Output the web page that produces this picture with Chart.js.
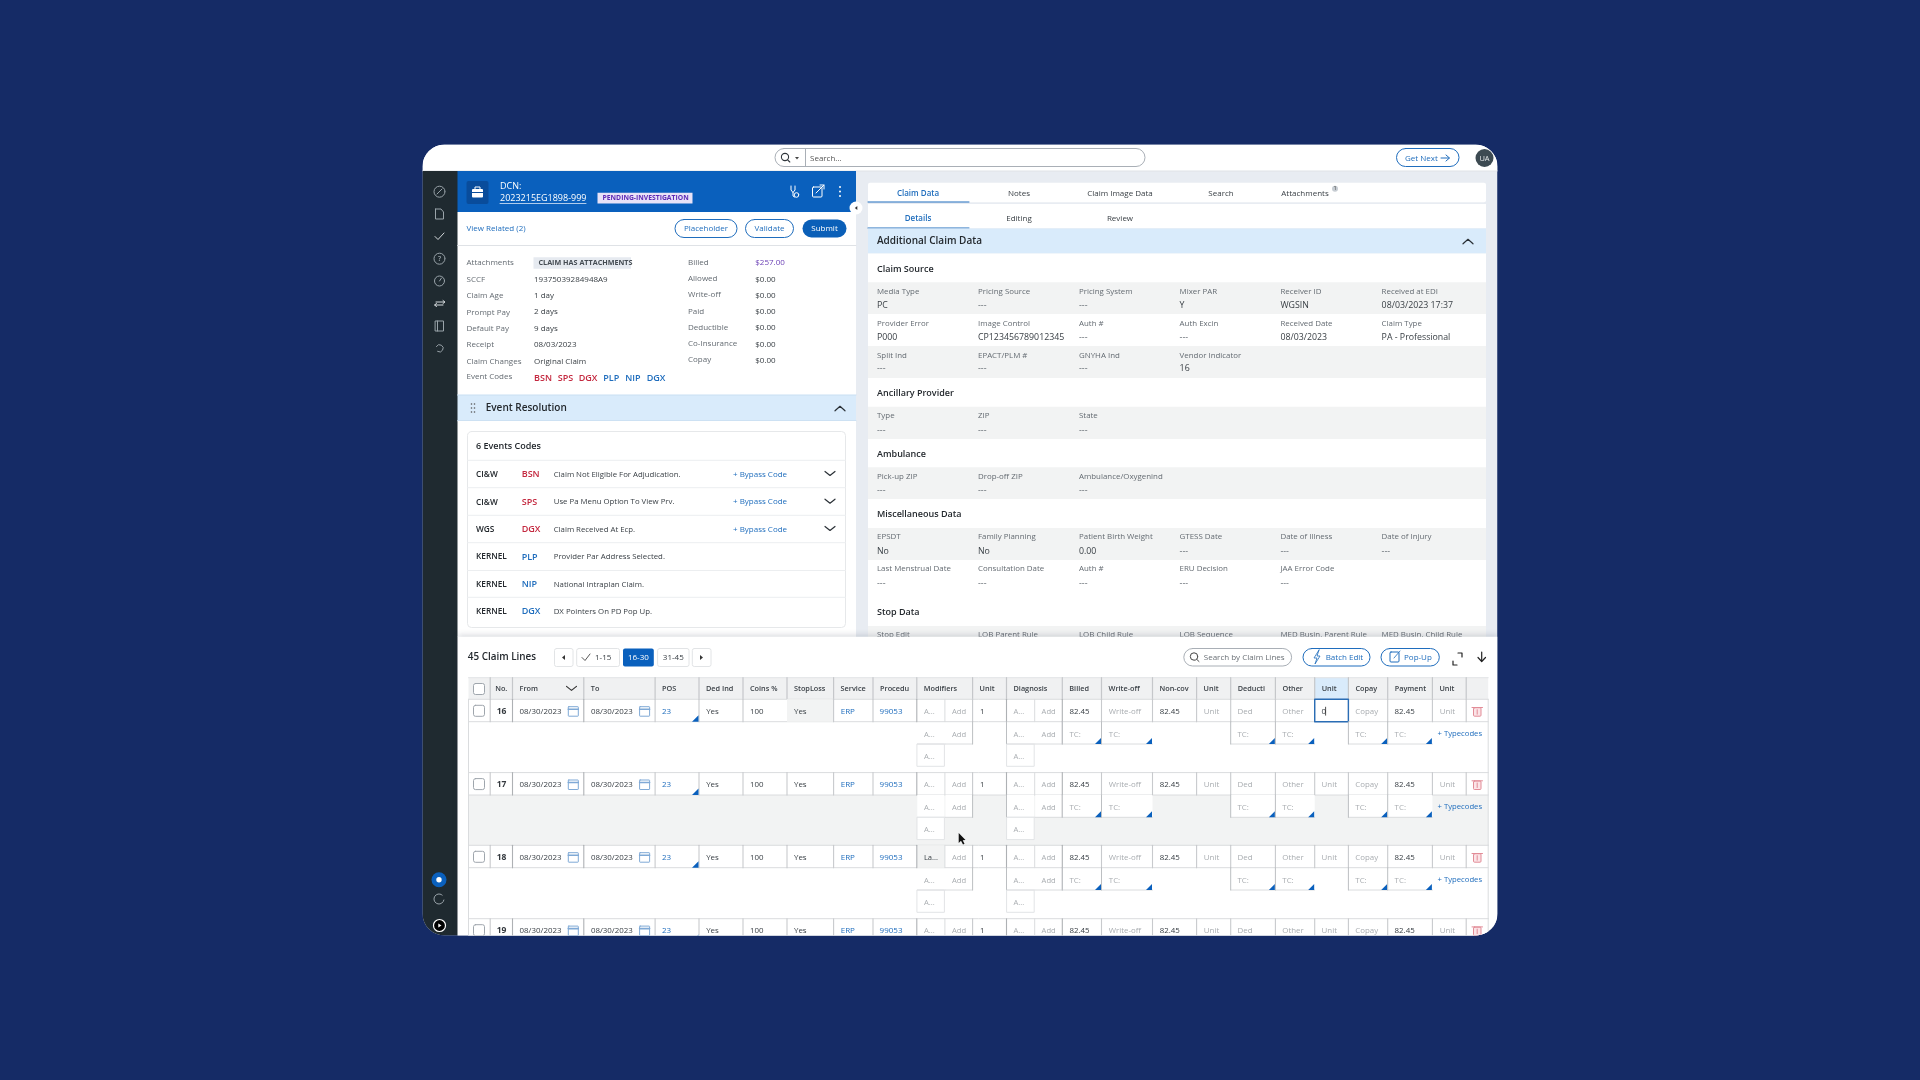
<!DOCTYPE html>
<html><head><meta charset="utf-8"><title>Claim Lines</title>
<script src="https://cdn.jsdelivr.net/npm/chart.js@4/dist/chart.umd.min.js"></script>
<style>html,body{margin:0;padding:0;background:#152b66;overflow:hidden}canvas{display:block;filter:blur(.45px)}</style>
</head><body><canvas id="c" width="1920" height="1080"></canvas>
<script>
// The reference holds no plotted series: it is an application screen. Its content is kept as text lists.
const mainTabs=["Claim Data","Notes","Claim Image Data","Search","Attachments"];
const subTabs=["Details","Editing","Review"];
const infoLabels=["Attachments","SCCF","Claim Age","Prompt Pay","Default Pay","Receipt","Claim Changes","Event Codes"];
const infoValues=["CLAIM HAS ATTACHMENTS","19375039284948A9","1 day","2 days","9 days","08/03/2023","Original Claim",""];
const amountLabels=["Billed","Allowed","Write-off","Paid","Deductible","Co-Insurance","Copay"];
const amountValues=["$257.00","$0.00","$0.00","$0.00","$0.00","$0.00","$0.00"];
const headerCodes=["BSN","SPS","DGX","PLP","NIP","DGX"];
const eventOwners=["CI&W","CI&W","WGS","KERNEL","KERNEL","KERNEL"];
const eventDescriptions=["Claim Not Eligible For Adjudication.","Use Pa Menu Option To View Prv.","Claim Received At Ecp.","Provider Par Address Selected.","National Intraplan Claim.","DX Pointers On PD Pop Up."];
const claimSource=[["Media Type","PC"],["Pricing Source","---"],["Pricing System","---"],["Mixer PAR","Y"],["Receiver ID","WGSIN"],["Received at EDI","08/03/2023 17:37"],
["Provider Error","P000"],["Image Control","CP123456789012345"],["Auth #","---"],["Auth Excin","---"],["Received Date","08/03/2023"],["Claim Type","PA - Professional"],
["Split Ind","---"],["EPACT/PLM #","---"],["GNYHA Ind","---"],["Vendor Indicator","16"]];
const ancillary=[["Type","---"],["ZIP","---"],["State","---"]];
const ambulance=[["Pick-up ZIP","---"],["Drop-off ZIP","---"],["Ambulance/Oxygenind","---"]];
const misc=[["EPSDT","No"],["Family Planning","No"],["Patient Birth Weight","0.00"],["GTESS Date","---"],["Date of Illness","---"],["Date of Injury","---"],
["Last Menstrual Date","---"],["Consultation Date","---"],["Auth #","---"],["ERU Decision","---"],["JAA Error Code","---"]];
const stopLabels=["Stop Edit","LOB Parent Rule","LOB Child Rule","LOB Sequence","MED Busin. Parent Rule","MED Busin. Child Rule"];
const pages=["1-15","16-30","31-45"];
const lineHeaders=["","No.","From","To","POS","Ded Ind","Coins %","StopLoss","Service","Procedu","Modifiers","Unit","Diagnosis","Billed","Write-off","Non-cov","Unit","Deducti","Other","Unit","Copay","Payment","Unit",""];
const lineNumbers=["16","17","18","19"];
const lineFrom=["08/30/2023","08/30/2023","08/30/2023","08/30/2023"];
const lineTo=["08/30/2023","08/30/2023","08/30/2023","08/30/2023"];
const linePos=["23","23","23","23"];
const lineDed=["Yes","Yes","Yes","Yes"];
const lineCoins=["100","100","100","100"];
const lineStop=["Yes","Yes","Yes","Yes"];
const lineService=["ERP","ERP","ERP","ERP"];
const lineProc=["99053","99053","99053","99053"];
const lineModifier=["A...","A...","La...","A..."];
const lineUnits=["1","1","1","1"];
const lineBilled=["82.45","82.45","82.45","82.45"];
const lineNonCov=["82.45","82.45","82.45","82.45"];
const linePayment=["82.45","82.45","82.45","82.45"];
const lineEnteredUnit=["0","Unit","Unit","Unit"];

const BLUE='#1f6dbd',DEEP='#0a60bd',LABEL='#646b72',VALUE='#3a4046',DARK='#23282d',RED='#c4283f',BAND='#d9ebfb',GRAY='#f2f3f3',FAINT='#a9adb1';
const F='"Open Sans"';
function drawScreen(chart){
 const c=chart.ctx,X=v=>chart.scales.x.getPixelForValue(v),Y=v=>chart.scales.y.getPixelForValue(v);
 const box=(x,y,w,h,fill,stroke,r=0,lw=1)=>{c.beginPath();c.roundRect(X(x),Y(y),w,h,r);if(fill){c.fillStyle=fill;c.fill()}if(stroke){c.strokeStyle=stroke;c.lineWidth=lw;c.stroke()}};
 const txt=(s,x,y,size,color,weight=400,align='left')=>{c.font=`${weight} ${size}px ${F}`;c.fillStyle=color;c.textAlign=align;c.textBaseline='middle';c.fillText(s,X(x),Y(y+.5))};
 const line=(pts,color,lw=1)=>{c.beginPath();pts.forEach((p,i)=>i?c.lineTo(X(p[0]),Y(p[1])):c.moveTo(X(p[0]),Y(p[1])));c.strokeStyle=color;c.lineWidth=lw;c.lineCap='round';c.lineJoin='round';c.stroke()};
 const circ=(x,y,r,fill,stroke,lw=1)=>{c.beginPath();c.arc(X(x),Y(y),r,0,7);if(fill){c.fillStyle=fill;c.fill()}if(stroke){c.strokeStyle=stroke;c.lineWidth=lw;c.stroke()}};
 const tri=(x,y,s,color)=>{c.beginPath();c.moveTo(X(x),Y(y));c.lineTo(X(x-s),Y(y));c.lineTo(X(x),Y(y-s));c.closePath();c.fillStyle=color;c.fill()};
 const chevUp=(x,y,col='#2a3036')=>line([[x-5,y+2.5],[x,y-2],[x+5,y+2.5]],col,1.2);
 const chevDn=(x,y,col='#2a3036')=>line([[x-5,y-2],[x,y+2],[x+5,y-2]],col,1.2);

 c.save();c.fillStyle='#152b66';c.fillRect(0,0,1920,1080);
 // frame
 const FL=422.5,FT=144.5,FR=1497.5,FB=935.5;
 c.beginPath();c.roundRect(X(FL),Y(FT),FR-FL,FB-FT,22);c.clip();
 c.fillStyle='#e8ecf2';c.fillRect(X(FL),Y(FT),FR-FL,FB-FT);
 box(FL,FT,FR-FL,26.5,'#fff');line([[FL,171],[FR,171]],'#dfe2e6');
 box(FL,171,35.5,FB-171,'#1f2a30');

 // sidebar icons
 const ic='#9aa4aa';
 circ(439.5,191.7,5.5,null,ic);line([[437,194],[442,189]],ic);
 line([[435.5,209],[441,209],[443.5,212],[443.5,219],[435.5,219],[435.5,209]],ic);
 line([[435,236.5],[438,239.5],[444,233]],'#d5dadd',1);
 circ(439.5,258.7,5.5,null,ic);txt('?',439.5,258.4,7,ic,600,'center');
 circ(439.5,281,5,null,ic);line([[439.5,281],[441.5,278]],ic);
 line([[436,302],[444,302]],'#d5dadd');line([[443,300.5],[445,302],[443,303.5]],'#d5dadd');line([[435,305],[443,305]],'#d5dadd');line([[436.5,303.5],[434.5,305],[436.5,306.5]],'#d5dadd');
 box(435.5,321,8,10,null,ic);line([[437.5,321],[437.5,331]],ic);
 c.beginPath();c.arc(439.5,348.3,3.6,-2.6,2.2);c.strokeStyle=ic;c.lineWidth=1;c.stroke();
 circ(439,879.7,7.5,'#0a60bd');circ(439,879.7,2.7,'#fff');
 c.beginPath();c.arc(439,899,5,.2,5.4);c.strokeStyle=ic;c.stroke();
 circ(439.5,925.5,6,'#000','#fff',1.2);c.beginPath();c.moveTo(438.3,923.5);c.lineTo(441.5,925.5);c.lineTo(438.3,927.5);c.fillStyle='#fff';c.fill();

 // search bar
 box(775,148.5,370,18,'#fff','#a9afb6',9);line([[805.5,148.5],[805.5,166.5]],'#a9afb6');
 circ(785,157,3.6,null,'#30363c',1.1);line([[787.6,159.8],[789.8,162]],'#30363c',1.1);
 c.beginPath();c.moveTo(795,157);c.lineTo(799,157);c.lineTo(797,159.5);c.fillStyle='#444';c.fill();
 txt('Search...',810,158,8,'#555');
 box(1396.5,148.5,62.5,18,'#fff',BLUE,9);txt('Get Next',1405,158,8,BLUE);
 line([[1441,158],[1449,158]],BLUE,1);line([[1446,155],[1449.5,158],[1446,161]],BLUE,1);
 circ(1484.5,158,9,'#3d4a52');txt('UA',1484.5,158,7.5,'#e7eaec',400,'center');

 // left header
 box(457.5,171,398.5,41,DEEP);box(466.5,181,22,23,'#094c9b',null,2);
 box(472,189,11,8.5,'#fff',null,1);line([[475,189],[475,187],[480,187],[480,189]],'#fff');line([[472,192.5],[483,192.5]],'#094c9b');
 txt('DCN:',500,185.7,9,'#fff');txt('2023215EG1898-999',500,197.7,9,'#fff');line([[500,203.5],[586,203.5]],'#dbe8f7',.8);
 box(597.5,192.7,95,10.8,'#e8e2f7');txt('PENDING-INVESTIGATION',602.5,198,6.8,'#5d2ab5',700);
 circ(796.5,195,2.3,null,'#fff');line([[791,186],[791,190],[793,192.5],[795,190],[795,186]],'#fff');line([[793,192.5],[793,196],[794.5,197]],'#fff');
 box(812.5,187,9.5,10,null,'#fff',1);line([[816,193],[824,185]],'#fff');line([[820,185],[824,185],[824,189]],'#fff');
 [187,191.5,196].forEach(y=>circ(840,y,1,'#fff'));
 // action row
 box(457.5,212,398.5,33,'#fff');line([[457.5,245.5],[856,245.5]],'#dfe2e6');
 txt('View Related (2)',466.5,228,8,BLUE);
 box(675,219.5,62,18,'#fff',BLUE,9);txt('Placeholder',706,228.2,8,BLUE,400,'center');
 box(745.5,219.5,48,18,'#fff',BLUE,9);txt('Validate',769.5,228.2,8,BLUE,400,'center');
 box(802.5,219.5,44,18,'#0a5fb8',null,9);txt('Submit',824.5,228.2,8,'#fff',400,'center');
 // info
 box(457.5,246,398.5,149,'#fff');
 infoLabels.forEach((s,i)=>txt(s,466.5,262.7+i*16.35-(i==7?1:0),8,LABEL));
 box(533.5,257.2,97.5,11.5,'#e6eaf0');txt(infoValues[0],538.5,262.7,7.2,'#454c53',700);
 infoValues.slice(1).forEach((s,i)=>txt(s,534,279+i*16.35,8,VALUE));
 amountLabels.forEach((s,i)=>txt(s,688,262.2+i*16.25,8,LABEL));
 amountValues.forEach((s,i)=>txt(s,755.3,262.7+i*16.25,8,i?VALUE:'#6a3fb5'));
 [534,557.7,578.7,603.3,625.3,646.7].forEach((x,i)=>txt(headerCodes[i],x,377.7,9,i<3?RED:BLUE,600));
 // event resolution
 box(457.5,395,398.5,25.7,BAND);line([[457.5,395],[856,395]],'#c9dff2');line([[457.5,420.7],[856,420.7]],'#c9dff2');
 [404,408,412].forEach(y=>{circ(471.5,y,.8,'#555');circ(474.5,y,.8,'#555')});
 txt('Event Resolution',485.7,408,10,DARK,600);chevUp(840,408.3);
 box(457.5,421,398.5,216,'#fff');box(467.5,431.5,378,196,'#fff','#e6e8ea',4);
 txt('6 Events Codes',476,445.5,9,DARK,600);
 [460.3,487.7,515.3,542.7,570.5,597.3].forEach(y=>line([[467.5,y],[845.5,y]],'#eceef0'));
 [474,501.7,529,556.5,584,611.3].forEach((y,i)=>{
  txt(eventOwners[i],476,y,8.3,DARK,600);
  txt(headerCodes[i],521.7,y,9,i<3?RED:BLUE,600);
  txt(eventDescriptions[i],553.7,y,7.8,VALUE);
  if(i<3){txt('+ Bypass Code',733,y,8,BLUE);chevDn(830,y-.5)}
 });
 circ(856,208,6.5,'#fff');c.beginPath();c.moveTo(857.3,206);c.lineTo(854.8,208);c.lineTo(857.3,210);c.fillStyle='#333';c.fill();

 // right tabs
 box(868,182.7,618,19.6,'#fff',null,2);box(868,204,618,24.3,'#fff');
 const tabX=[918,1019,1120,1221,1305];
 mainTabs.forEach((s,i)=>txt(s,tabX[i],193,8,i?VALUE:BLUE,i?400:600,'center'));
 circ(1335,188.8,3,'#c6ccd2');txt('1',1335,188.5,4.8,'#333',400,'center');
 line([[868,202],[969,202]],BLUE,1);
 subTabs.forEach((s,i)=>txt(s,tabX[i],218.2,8,i?VALUE:BLUE,i?400:600,'center'));
 line([[868,228],[969,228]],BLUE,1);
 box(868,228.5,618,25,BAND);txt('Additional Claim Data',877,241,10,DARK,600);chevUp(1468,241.3);
 box(868,253.5,618,384,'#fff');
 const colX=[877,978,1079,1179.6,1280.4,1381.6];
 const grid=(rows,labelY,valueY,perRow=6)=>rows.forEach((r,i)=>{const k=i%perRow,row=Math.floor(i/perRow);
   txt(r[0],colX[k],labelY[row],7.9,LABEL);txt(r[1],colX[k],valueY[row],8.8,r[1]==='---'?LABEL:VALUE)});
 box(868,282.3,618,31.8,GRAY);box(868,346,618,32,GRAY);
 txt('Claim Source',877,268.5,9,DARK,600);grid(claimSource,[291,323,355],[304.7,336.7,368.4]);
 txt('Ancillary Provider',877,392.7,9,DARK,600);box(868,406.7,618,32.3,GRAY);grid(ancillary,[415.7],[429.7]);
 txt('Ambulance',877,453.5,9,DARK,600);box(868,467.3,618,31.7,GRAY);grid(ambulance,[476],[489.7]);
 txt('Miscellaneous Data',877,513.7,9,DARK,600);box(868,528,618,32,GRAY);grid(misc,[536.7,568.7],[550.7,582.7]);
 txt('Stop Data',877,612,9,DARK,600);box(868,626,618,11,GRAY);stopLabels.forEach((s,i)=>txt(s,colX[i],634.6,7.9,LABEL));

 // lower panel
 c.shadowColor='rgba(40,50,70,.18)';c.shadowBlur=6;c.shadowOffsetY=-2;box(457.5,636.7,1040,300,'#fff');c.shadowColor='transparent';c.shadowBlur=0;c.shadowOffsetY=0;
 txt('45 Claim Lines',467.8,657,9.9,DARK,600);
 box(554.5,648.5,18.5,18,'#fff','#e2e4e6',2);c.beginPath();c.moveTo(565,655);c.lineTo(562,657.5);c.lineTo(565,660);c.fillStyle='#333';c.fill();
 box(576.7,648.5,42.8,18,'#fff','#e2e4e6',2);line([[582,657.5],[585,660.5],[590,654]],'#444',.9);txt(pages[0],595,657.4,8,VALUE);
 box(623,648.5,30.8,18,DEEP,null,2);txt(pages[1],638.4,657.4,8,'#fff',400,'center');
 box(657.6,648.5,31.4,18,'#fff','#e2e4e6',2);txt(pages[2],673.3,657.4,8,VALUE,400,'center');
 box(692.3,648.5,18.7,18,'#fff','#e2e4e6',2);c.beginPath();c.moveTo(700,655);c.lineTo(703,657.5);c.lineTo(700,660);c.fillStyle='#333';c.fill();
 box(1183.8,648.5,107.8,17.5,'#fff','#a9afb6',9);circ(1194,656.5,3.7,null,'#444',1);line([[1196.8,659.4],[1199,661.5]],'#444',1);txt('Search by Claim Lines',1203.8,657.3,8,'#6a7076');
 box(1303,648.5,67,17.5,'#fff',BLUE,9);line([[1319,650],[1314,658],[1317,658],[1315,664],[1320,656],[1317,656],[1319,650]],BLUE,.8);txt('Batch Edit',1325.7,657.3,8,BLUE);
 box(1381,648.5,58.3,17.5,'#fff',BLUE,9);box(1390,652,9,10,null,BLUE,1);line([[1394,658],[1400,651]],BLUE,.8);txt('Pop-Up',1404,657.3,8,BLUE);
 line([[1453,661],[1453,665],[1457,665]],'#222',1.2);line([[1458,653],[1462,653],[1462,657]],'#222',1.2);
 line([[1481.7,652],[1481.7,661]],'#222',1.2);line([[1478,657.5],[1481.7,661.5],[1485.5,657.5]],'#222',1.2);

 // table
 const E=[468.5,490.2,512.5,583.8,655.1,699,743,787,833.6,873,916.8,972.6,1006.5,1062.3,1101.5,1152.5,1196.6,1230.7,1275.4,1314.7,1348.4,1387.7,1432.4,1466.2,1488.2];
 const HT=677.7,RT=[699.3,772.6,845.3,918.7],RB=[772.6,845.3,918.7,990];
 box(E[0],HT,E[24]-E[0],21.6,'#f0f1f2');box(E[19],HT,E[20]-E[19],21.6,BAND);
 line([[E[0],HT],[E[24],HT]],'#e1e3e5');
 lineHeaders.forEach((s,i)=>{ if(s)txt(s,E[i]+(i==1?5:7),688.4,7.3,'#3c4248',600);
   if(i>0)line([[E[i],HT],[E[i],HT+21.6]],'#c5c7ca',1.2)});
 chevDn(571.5,688.4,'#333');box(473.5,683.5,11,11,'#fff','#9fa6ad',2);
 RT.forEach((T,r)=>{
  if(r==1)box(E[0],T,E[24]-E[0],RB[1]-T,GRAY);
  box(E[0],T,E[24]-E[0],22.4,'#fff');
  const y=T+11.9,y2=T+34.6,y3=T+57;
  line([[E[0],T],[E[24],T]],'#dadcde');line([[E[0],T+22.4],[E[24],T+22.4]],'#dadcde');
  line([[E[0],T],[E[0],RB[r]]],'#dadcde');line([[E[24],T],[E[24],RB[r]]],'#dadcde');
  if(r==0)box(E[7],T,E[8]-E[7],22.4,GRAY);
  if(r==2)box(E[10],T,E[11]-E[10]-27.7,22.4,GRAY);
  for(let i=1;i<24;i++)if(i!=7||r)line([[E[i],T],[E[i],T+22.4]],i==2||i==3||i==10||i==13||i==12?'#aeb1b4':'#c8cacd',1.1);
  box(473.5,T+6,11,11,'#fff','#9fa6ad',2);
  txt(lineNumbers[r],501.5,y-.3,8.5,'#34393e',700,'center');
  txt(lineFrom[r],519.6,y-.3,7.9,VALUE);txt(lineTo[r],590.9,y-.3,7.9,VALUE);
  [573.3,644.6].forEach(x=>{box(x-5,y-4.5,10,9.5,null,'#7fa9d6',.5);line([[x-5,y-2],[x+5,y-2]],'#7fa9d6',1.6)});
  txt(linePos[r],661.9,y-.3,8,BLUE);tri(E[5]-.5,T+22.4,6.5,DEEP);
  txt(lineDed[r],706.2,y-.3,7.9,VALUE);txt(lineCoins[r],750,y-.3,7.9,VALUE);txt(lineStop[r],794,y-.3,7.9,VALUE);
  txt(lineService[r],840.7,y-.3,8,BLUE);txt(lineProc[r],879.6,y-.3,8,BLUE);
  txt(lineModifier[r],923.9,y-.3,7.6,lineModifier[r]==='A...'?FAINT:VALUE);txt('Add',959,y-.3,7.6,FAINT,400,'center');line([[944.9,T],[944.9,T+22.4]],'#dadcde');
  txt(lineUnits[r],980,y-.3,7.9,VALUE);
  txt('A...',1013.4,y-.3,7.6,FAINT);txt('Add',1041.6,y-.3,7.6,FAINT);line([[1034.7,T],[1034.7,T+22.4]],'#dadcde');
  txt(lineBilled[r],1069.5,y-.3,7.9,VALUE);txt('Write-off',1108.8,y-.3,7.9,FAINT);txt(lineNonCov[r],1159.7,y-.3,7.9,VALUE);
  txt('Unit',1203.8,y-.3,7.9,FAINT);txt('Ded',1237.5,y-.3,7.9,FAINT);txt('Other',1282.3,y-.3,7.9,FAINT);
  txt(lineEnteredUnit[r],1321.6,y-.3,7.9,r?FAINT:VALUE);
  txt('Copay',1355.3,y-.3,7.9,FAINT);txt(linePayment[r],1394.6,y-.3,7.9,VALUE);txt('Unit',1439.7,y-.3,7.9,FAINT);
  if(r==0){box(E[19],T,E[20]-E[19],22.4,null,'#2a6db5',0,1.4);line([[1325.6,y-4],[1325.6,y+4]],'#222',.8)}
  // trash
  const tc='#e28c97';box(1473.5,y-3.5,7.5,8.5,'#fbe4e7',tc,1);line([[1472,y-3.7],[1482.5,y-3.7]],tc);line([[1477.2,y-1.5],[1477.2,y+3]],tc);
  // sub rows
  [[E[10],944.9],[944.9,E[11]],[E[12],1034.7],[1034.7,E[13]]].forEach(([a,b])=>{box(a+.5,T+22.4,b-a-1,22.3,r==1?'#fff':null);line([[a+.5,T+44.7],[b,T+44.7]],'#dadcde')});
  [E[11],E[12],E[13]].forEach(x=>line([[x,T+22.4],[x,T+44.7]],'#bcbfc2'));
  [[E[10],944.9],[E[12],1034.7]].forEach(([a,b])=>{box(a+.5,T+44.7,b-a-1,22.3,r==1?'#fff':null,'#e2e4e6')});
  txt('A...',923.9,y2,7.6,FAINT);txt('Add',959,y2,7.6,FAINT,400,'center');txt('A...',923.9,y3,7.6,FAINT);
  txt('A...',1013.4,y2,7.6,FAINT);txt('Add',1041.6,y2,7.6,FAINT);txt('A...',1013.4,y3,7.6,FAINT);
  [[13,1069.5],[14,1108.8],[17,1237.5],[18,1282.3],[20,1355.3],[21,1394.6]].forEach(([k,x])=>{
    box(E[k],T+22.4,E[k+1]-E[k],22.3,r==1?'#fff':null);line([[E[k],T+44.7],[E[k+1],T+44.7]],'#dadcde');line([[E[k],T+22.4],[E[k],T+44.7]],'#bcbfc2');
    txt('TC:',x,y2,7.9,FAINT);tri(E[k+1]-.5,T+44.7,6,DEEP)});
  txt('+ Typecodes',1437.6,y2-.8,7.7,BLUE);
 });
 // pointer
 c.beginPath();[[958.7,833],[958.7,843],[961,840.8],[963,844.5],[964.5,843.8],[962.7,840.2],[965.5,840]].forEach((p,i)=>i?c.lineTo(X(p[0]),Y(p[1])):c.moveTo(X(p[0]),Y(p[1])));c.closePath();c.fillStyle='#111';c.fill();
 c.restore();
}
new Chart(document.getElementById('c'),{type:'scatter',data:{datasets:[]},plugins:[{id:'screen',afterDraw:drawScreen}],
 options:{responsive:false,devicePixelRatio:1,animation:false,events:[],layout:{padding:0},plugins:{legend:{display:false},tooltip:{enabled:false},title:{display:false}},
 scales:{x:{type:'linear',min:0,max:1920,display:false},y:{type:'linear',min:0,max:1080,reverse:true,display:false}}}});
</script></body></html>
